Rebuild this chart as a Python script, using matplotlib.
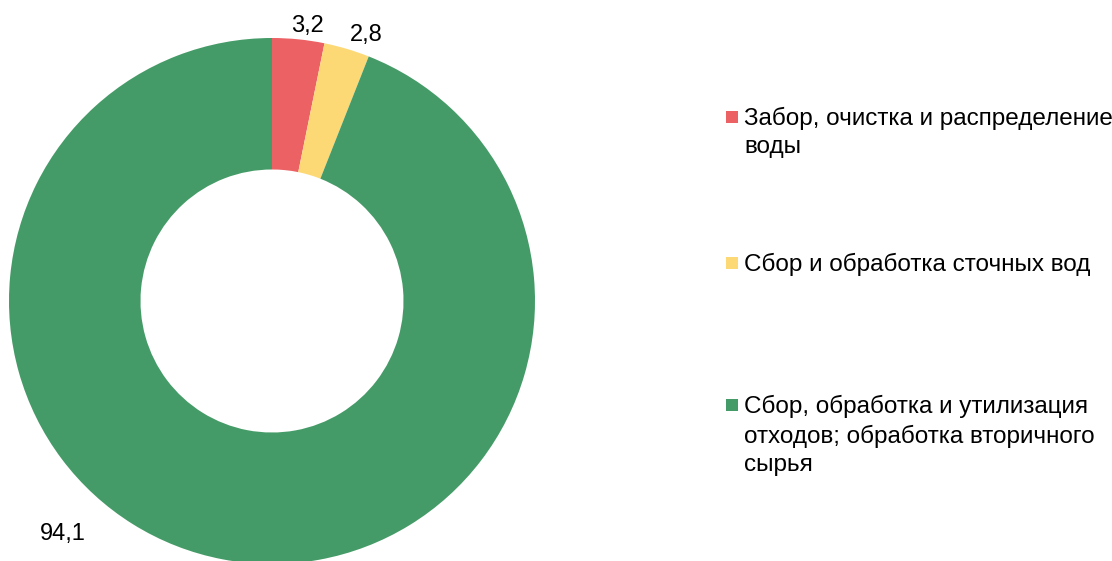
import numpy as np
import matplotlib.pyplot as plt

plt.rcParams["font.family"] = ["Liberation Sans", "DejaVu Sans"]

# доли видов деятельности, %
kategorii = [
    "Забор, очистка и распределение\nводы",
    "Сбор и обработка сточных вод",
    "Сбор, обработка и утилизация\nотходов; обработка вторичного\nсырья",
]
doli = [3.2, 2.8, 94.1]
podpisi = ["3,2", "2,8", "94,1"]
cveta = ["#EC6164", "#FDD976", "#459B67"]

W, H = 1112, 561
fig = plt.figure(figsize=(W / 100, H / 100), dpi=100)

# бублик: центр (272, 301) px, радиус 263 px
cx, cy, r = 272, 301, 263
ax = fig.add_axes([(cx - r) / W, (H - cy - r) / H, 2 * r / W, 2 * r / H])
klin, _ = ax.pie(doli, colors=cveta, startangle=90, counterclock=False,
                 radius=1, wedgeprops=dict(width=0.5, linewidth=0))
ax.set_xlim(-1, 1)
ax.set_ylim(-1, 1)
ax.set_aspect("equal")
ax.axis("off")

# подписи значений: маленькие доли у середины дуги, большая снизу слева
for i, k in enumerate(klin[:2]):
    ug = np.deg2rad((k.theta1 + k.theta2) / 2 - 1.5 * (i + 1))
    rr = 1.055 + 0.02 * i
    ax.text(rr * np.cos(ug), rr * np.sin(ug), podpisi[i], fontsize=17,
            ha="center", va="center", clip_on=False)
ug = np.deg2rad(228)
ax.text(1.19 * np.cos(ug), 1.19 * np.sin(ug), podpisi[2], fontsize=17,
        ha="center", va="center", clip_on=False)

# легенда вручную: квадрат на уровне первой строки
verh = [107, 253, 395]
kv = [117, 263, 405]
for nazv, c, yt, yk in zip(kategorii, cveta, verh, kv):
    fig.patches.append(plt.Rectangle((726 / W, (H - yk - 6) / H), 12 / W, 12 / H,
                                     transform=fig.transFigure, color=c, lw=0))
    fig.text(744 / W, (H - yt) / H, nazv, fontsize=17.5, va="top", ha="left",
             linespacing=1.35)

fig.savefig("out.png", dpi=100)
